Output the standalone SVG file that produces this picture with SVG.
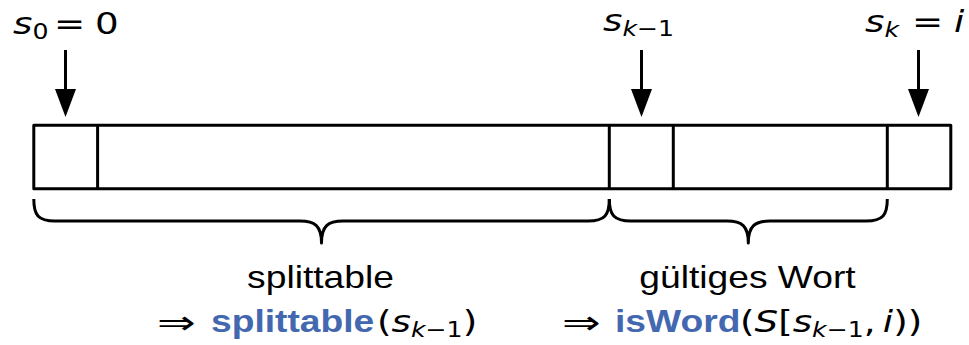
<svg xmlns="http://www.w3.org/2000/svg" width="969" height="345" viewBox="0 0 969 345">
<defs>
<style>
.ln{stroke:#000;stroke-width:3;fill:none;stroke-linejoin:round}
.tx{font-family:"Liberation Sans",Arial,sans-serif;font-size:31px;fill:#000}
.bl{font-family:"Liberation Sans",Arial,sans-serif;font-size:31px;font-weight:bold;fill:#4468b0}
.mt{font-family:"DejaVu Sans",sans-serif;font-size:31px;fill:#000}
.ar{font-family:"DejaVu Sans",sans-serif;font-size:33px;fill:#000}
.it{font-style:italic}
.sb{font-size:21px}
</style>
<marker id="ah" markerUnits="userSpaceOnUse" markerWidth="30" markerHeight="24" refX="0" refY="11" orient="auto" viewBox="0 0 30 24">
<path d="M0,0.5 L28,11 L0,21.5 z" fill="#000"/>
</marker>
</defs>
<rect width="969" height="345" fill="#fff"/>
<g id="array">
<rect class="ln" x="33.8" y="125.3" width="917" height="63.5"/>
<line class="ln" x1="97.6" y1="125.3" x2="97.6" y2="188.8"/>
<line class="ln" x1="609.3" y1="125.3" x2="609.3" y2="188.8"/>
<line class="ln" x1="673.3" y1="125.3" x2="673.3" y2="188.8"/>
<line class="ln" x1="887.3" y1="125.3" x2="887.3" y2="188.8"/>
</g>
<g id="connectors">
<line class="ln" x1="65.5" y1="50" x2="65.5" y2="89" marker-end="url(#ah)"/>
<line class="ln" x1="641.5" y1="50" x2="641.5" y2="89" marker-end="url(#ah)"/>
<line class="ln" x1="918.5" y1="50" x2="918.5" y2="89" marker-end="url(#ah)"/>
</g>
<g id="brace-left">
<path class="ln" d="M33.8,199 C33.8,215 38,221 55,221 L300,221 C315,221 321.5,226 321.5,243 C321.5,226 328,221 343,221 L588,221 C605,221 609.3,215 609.3,199"/>
<text class="tx" text-anchor="middle" transform="translate(320.5,287.5) scale(1.2,1)">splittable</text>
<text class="ar" transform="translate(157,334) scale(1.4,1)">⇒</text>
<text class="bl" transform="translate(211,332) scale(1.2,1)">splittable</text>
<text class="mt" transform="translate(377,332) scale(1.2,1)">(<tspan class="it">s</tspan><tspan class="sb" dy="5"><tspan class="it">k</tspan>−1</tspan><tspan dy="-5">)</tspan></text>
</g>
<g id="brace-right">
<path class="ln" d="M609.3,199 C609.3,215 614,221 631,221 L727,221 C742,221 748.3,226 748.3,243 C748.3,226 755,221 770,221 L866,221 C883,221 887.3,215 887.3,199"/>
<text class="tx" text-anchor="middle" transform="translate(747.5,287.5) scale(1.2,1)">gültiges Wort</text>
<text class="ar" transform="translate(562,334) scale(1.4,1)">⇒</text>
<text class="bl" transform="translate(615,332) scale(1.2,1)">isWord</text>
<text class="mt" transform="translate(740,332) scale(1.2,1)">(<tspan class="it">S</tspan>[<tspan class="it">s</tspan><tspan class="sb" dy="5"><tspan class="it">k</tspan>−1</tspan><tspan dy="-5">,</tspan><tspan class="it" dx="6">i</tspan>))</text>
</g>
<g id="label-s0">
<text class="mt" transform="translate(13,34) scale(1.2,1)"><tspan class="it">s</tspan><tspan class="sb" dy="5">0</tspan></text>
<text class="mt" transform="translate(54,34) scale(1.2,1)">=</text>
<text class="mt" transform="translate(95,34) scale(1.2,1)">0</text>
</g>
<g id="label-sk1">
<text class="mt" transform="translate(603,31) scale(1.2,1)"><tspan class="it">s</tspan><tspan class="sb" dy="5"><tspan class="it">k</tspan>−1</tspan></text>
</g>
<g id="label-sk">
<text class="mt" transform="translate(865,32) scale(1.2,1)"><tspan class="it">s</tspan><tspan class="sb it" dy="5">k</tspan></text>
<text class="mt" transform="translate(912,32) scale(1.2,1)">=</text>
<text class="mt it" transform="translate(954,32) scale(1.2,1)">i</text>
</g>
</svg>
